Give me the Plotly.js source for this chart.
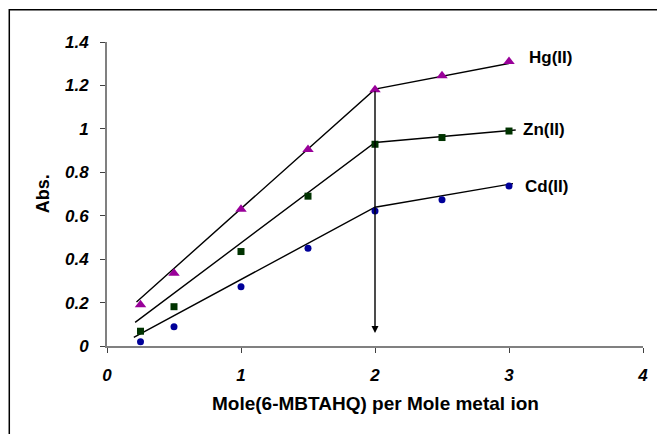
<!DOCTYPE html>
<html>
<head>
<meta charset="utf-8">
<script src="https://cdn.plot.ly/plotly-3.0.1.min.js"></script>
<style>html,body{margin:0;padding:0;background:#fff;}#chart{width:657px;height:434px;}</style>
</head>
<body>
<div id="chart"></div>
<script>
// Data
const xRatio = [0.25, 0.5, 1, 1.5, 2, 2.5, 3];
const hgAbs = [0.19, 0.335, 0.63, 0.905, 1.18, 1.245, 1.31];
const znAbs = [0.068, 0.181, 0.435, 0.69, 0.929, 0.96, 0.99];
const cdAbs = [0.02, 0.089, 0.273, 0.45, 0.622, 0.674, 0.737];

// Fitted straight-line segments (two per metal ion)
const hgFitX = [0.22, 2, 3.03];
const hgFitY = [0.203, 1.183, 1.305];
const znFitX = [0.21, 2, 3.05];
const znFitY = [0.109, 0.937, 0.995];
const cdFitX = [0.2, 2, 3.03];
const cdFitY = [0.04, 0.639, 0.748];

const seriesNames = ['Hg(II)', 'Zn(II)', 'Cd(II)'];
const labelX = [3.31, 3.26, 3.28];
const labelY = [1.327, 0.995, 0.733];

const arrowX = 2, arrowTop = 1.18, arrowBottom = 0.06;

const xTitle = 'Mole(6-MBTAHQ) per Mole metal ion';
const yTitle = 'Abs.';

const FONT = 'Arial, "Liberation Sans", sans-serif';
const lineStyle = {color: '#000', width: 1.4};

const traces = [
  {x: hgFitX, y: hgFitY, mode: 'lines', line: lineStyle, hoverinfo: 'skip'},
  {x: znFitX, y: znFitY, mode: 'lines', line: lineStyle, hoverinfo: 'skip'},
  {x: cdFitX, y: cdFitY, mode: 'lines', line: lineStyle, hoverinfo: 'skip'},
  {x: xRatio, y: hgAbs, mode: 'markers', name: seriesNames[0],
   marker: {symbol: 'triangle-up', size: 10, color: '#990099'}, cliponaxis: false},
  {x: xRatio, y: znAbs, mode: 'markers', name: seriesNames[1],
   marker: {symbol: 'square', size: 7, color: '#003300'}, cliponaxis: false},
  {x: xRatio, y: cdAbs, mode: 'markers', name: seriesNames[2],
   marker: {symbol: 'circle', size: 7, color: '#000099'}, cliponaxis: false}
];

const annotations = seriesNames.map((n, i) => ({
  x: labelX[i], y: labelY[i], xref: 'x', yref: 'y', text: '<b>' + n + '</b>',
  showarrow: false, xanchor: 'center', yanchor: 'middle',
  font: {family: FONT, size: 17, color: '#000'}
}));
annotations.push({
  x: arrowX, y: arrowBottom, ax: arrowX, ay: arrowTop, xref: 'x', yref: 'y',
  axref: 'x', ayref: 'y', showarrow: true, arrowhead: 2, arrowsize: 1,
  arrowwidth: 1.4, arrowcolor: '#000', text: ''
});
annotations.push({
  x: 0.5, y: -0.188, xref: 'paper', yref: 'paper', text: '<b>' + xTitle + '</b>',
  showarrow: false, xanchor: 'center', yanchor: 'middle',
  font: {family: FONT, size: 19, color: '#000'}
});
annotations.push({
  x: -0.119, y: 0.5, xref: 'paper', yref: 'paper', text: '<b>' + yTitle + '</b>',
  showarrow: false, xanchor: 'center', yanchor: 'middle', textangle: -90,
  font: {family: FONT, size: 18, color: '#000'}
});

const tickFont = {family: FONT, size: 17, color: '#000', weight: 'bold', style: 'italic'};

const layout = {
  width: 657, height: 434,
  margin: {l: 106.7, r: 14.3, t: 42.3, b: 88},
  paper_bgcolor: '#fff', plot_bgcolor: '#fff',
  showlegend: false,
  xaxis: {
    range: [0, 4], dtick: 1, tick0: 0, showgrid: false, zeroline: false,
    showline: true, linecolor: '#808080', linewidth: 2,
    ticks: 'outside', ticklen: 5, tickcolor: '#404040', tickwidth: 1,
    tickfont: tickFont, ticklabelstandoff: 8
  },
  yaxis: {
    range: [0, 1.4], dtick: 0.2, tick0: 0, showgrid: false, zeroline: false,
    showline: true, linecolor: '#808080', linewidth: 2,
    ticks: 'outside', ticklen: 5, tickcolor: '#404040', tickwidth: 1,
    tickfont: tickFont, ticklabelstandoff: 8
  },
  shapes: [{
    type: 'rect', xref: 'paper', yref: 'paper',
    x0: -0.1823, x1: 1.1, y0: -0.4, y1: 1.1064,
    line: {color: '#000', width: 1.5}, fillcolor: 'rgba(0,0,0,0)', layer: 'below'
  }],
  annotations: annotations
};

Plotly.newPlot('chart', traces, layout, {displayModeBar: false, staticPlot: true});
</script>
</body>
</html>
